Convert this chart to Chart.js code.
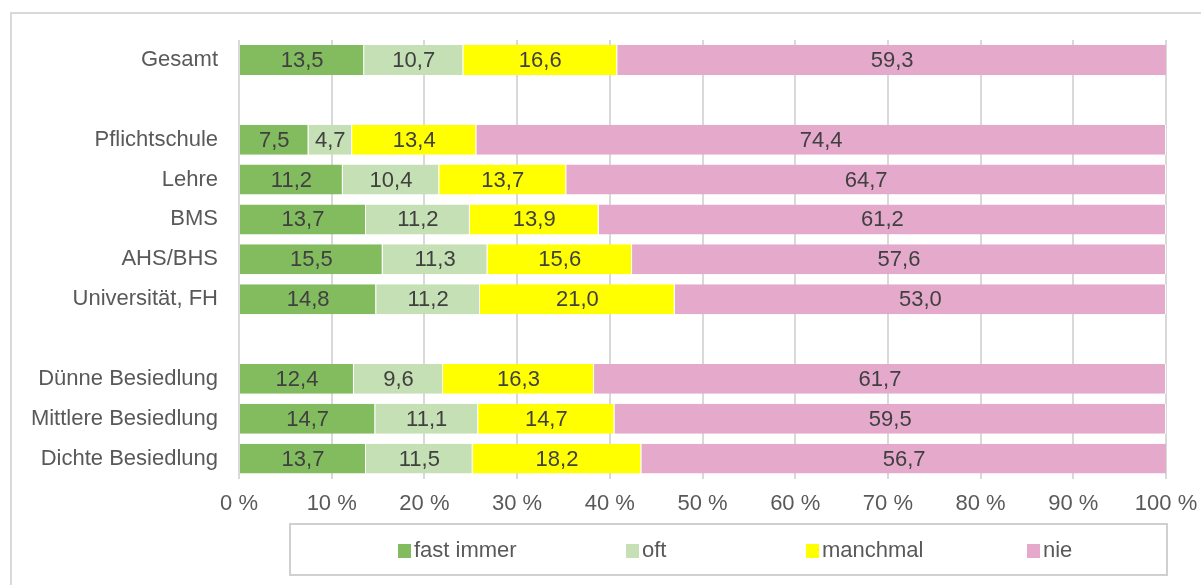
<!DOCTYPE html>
<html lang="de">
<head>
<meta charset="utf-8">
<script src="https://cdn.jsdelivr.net/npm/chart.js@4/dist/chart.umd.min.js"></script>
<style>
    body { margin: 0; background: #fff; font-family: "Liberation Sans", Arial, sans-serif; }
    #wrap { position: relative; width: 1201px; height: 585px; overflow: hidden; }
    #frame { position: absolute; left: 10px; top: 12px; width: 1200px; height: 600px; border: 2px solid #d9d9d9; box-sizing: border-box; }
    #chart { position: absolute; left: 0; top: 0; }
    #legend { position: absolute; left: 289px; top: 523px; width: 879px; height: 53px; border: 2px solid #d0d0d0; box-sizing: border-box; }
    .item { position: absolute; top: 12px; font-size: 22px; color: #595959; white-space: nowrap; }
    .box { display: inline-block; width: 13px; height: 14px; margin-right: 3px; vertical-align: -1px; }
</style>
</head>
<body>
<div id="wrap">
    <div id="frame"></div>
    <canvas id="chart" width="1201" height="585"></canvas>
    <div id="legend"></div>
</div>
<script>
// categories (empty strings = spacer rows)
const categories = ['Gesamt', '', 'Pflichtschule', 'Lehre', 'BMS', 'AHS/BHS', 'Universität, FH', '', 'Dünne Besiedlung', 'Mittlere Besiedlung', 'Dichte Besiedlung'];

const seriesNames = ['fast immer', 'oft', 'manchmal', 'nie'];
const fastImmer = [13.5, null, 7.5, 11.2, 13.7, 15.5, 14.8, null, 12.4, 14.7, 13.7];
const oft = [10.7, null, 4.7, 10.4, 11.2, 11.3, 11.2, null, 9.6, 11.1, 11.5];
const manchmal = [16.6, null, 13.4, 13.7, 13.9, 15.6, 21.0, null, 16.3, 14.7, 18.2];
const nie = [59.3, null, 74.4, 64.7, 61.2, 57.6, 53.0, null, 61.7, 59.5, 56.7];

const xTicks = [0, 10, 20, 30, 40, 50, 60, 70, 80, 90, 100];

const colors = ['#83bc5f', '#c5e0b4', '#ffff00', '#e4a9cb'];
const legendX = [107, 335, 515, 736];
const fontFamily = '"Liberation Sans", Arial, sans-serif';

// draws the value in the middle of each bar segment
const valueLabels = {
    id: 'valueLabels',
    afterDatasetsDraw(chart) {
        const ctx = chart.ctx;
        ctx.save();
        ctx.font = '22px ' + fontFamily;
        ctx.fillStyle = '#404040';
        ctx.textAlign = 'center';
        ctx.textBaseline = 'middle';
        chart.data.datasets.forEach((ds, i) => {
            chart.getDatasetMeta(i).data.forEach((bar, j) => {
                const v = ds.data[j];
                if (v === null) return;
                const p = bar.getProps(['x', 'y', 'base'], true);
                ctx.fillText(v.toFixed(1).replace('.', ','), (p.x + p.base) / 2, p.y + 1);
            });
        });
        ctx.restore();
    }
};

const datasets = [fastImmer, oft, manchmal, nie].map((d, i) => ({
    label: seriesNames[i],
    data: d,
    backgroundColor: colors[i],
    borderColor: '#ffffff',
    borderWidth: { top: 0, bottom: 0, left: 0, right: 1 },
    borderSkipped: false,
    barPercentage: 0.75,
    categoryPercentage: 1
}));

new Chart(document.getElementById('chart'), {
    type: 'bar',
    data: { labels: categories, datasets: datasets },
    options: {
        indexAxis: 'y',
        responsive: false,
        animation: false,
        layout: { padding: { top: 40, right: 35, bottom: 56, left: 0 } },
        plugins: { legend: { display: false }, tooltip: { enabled: false } },
        scales: {
            x: {
                stacked: true,
                min: 0,
                max: 100,
                afterBuildTicks: axis => { axis.ticks = xTicks.map(v => ({ value: v })); },
                // let the "100 %" label hang into the right padding
                afterFit: axis => { axis.paddingLeft = 0; axis.paddingRight = 0; },
                grid: { color: '#d9d9d9', lineWidth: 2, drawTicks: false },
                border: { display: false },
                ticks: {
                    padding: 12,
                    color: '#595959',
                    font: { family: fontFamily, size: 22 },
                    callback: v => v + ' %'
                }
            },
            y: {
                stacked: true,
                afterFit: axis => { axis.width = 239; },
                grid: { display: false },
                border: { display: false },
                ticks: {
                    padding: 13,
                    color: '#595959',
                    autoSkip: false,
                    font: { family: fontFamily, size: 22 }
                }
            }
        }
    },
    plugins: [valueLabels]
});

// legend
const legend = document.getElementById('legend');
seriesNames.forEach((name, i) => {
    const el = document.createElement('div');
    el.className = 'item';
    el.style.left = legendX[i] + 'px';
    el.innerHTML = `<span class="box" style="background:${colors[i]}"></span>${name}`;
    legend.appendChild(el);
});
</script>
</body>
</html>
